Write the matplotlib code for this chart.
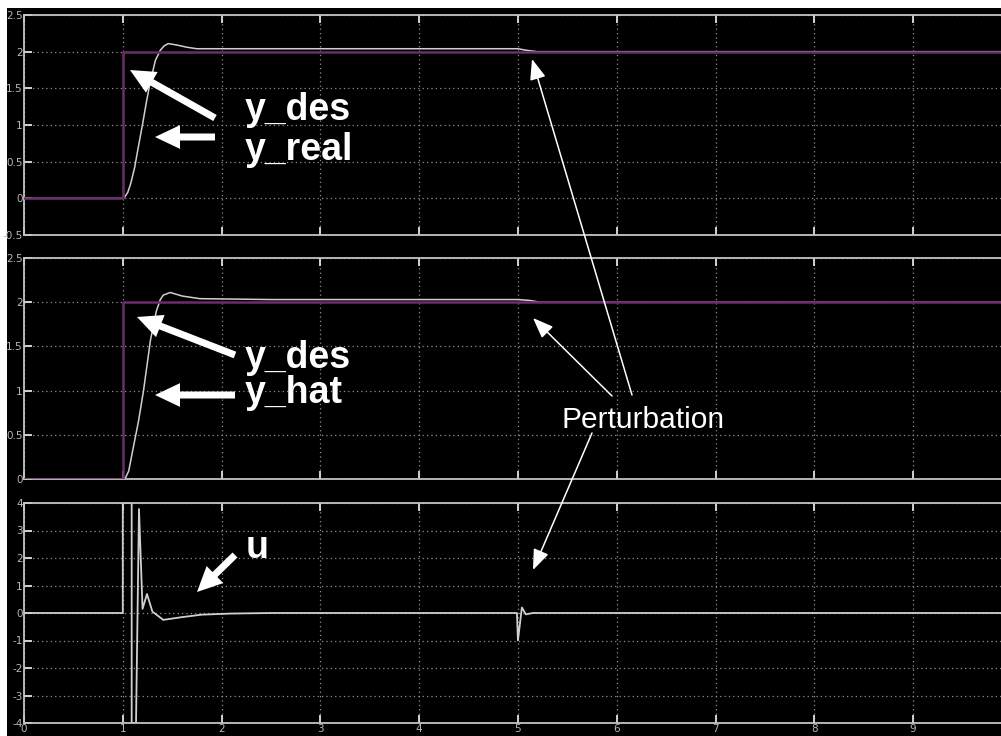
import matplotlib
matplotlib.use('Agg')
import matplotlib.pyplot as plt
from matplotlib.patches import Rectangle

W, H = 1001, 736

# reference step
t_des = [0, 1.0, 1.0, 10]
y_des = [0, 0, 2.0, 2.0]

# measured plant output
t_real = [0, 1.0, 1.02, 1.05, 1.08, 1.12, 1.16, 1.20, 1.24, 1.28, 1.33, 1.38, 1.42,
          1.46, 1.55, 1.65, 1.75, 2.5, 4.0, 5.0, 5.08, 5.19, 10]
y_real = [0, 0, 0.02, 0.08, 0.20, 0.42, 0.72, 1.01, 1.32, 1.60, 1.88, 2.02, 2.08,
          2.11, 2.09, 2.06, 2.04, 2.04, 2.04, 2.04, 2.02, 2.0, 2.0]

# observer estimate
t_hat = [0, 1.0, 1.03, 1.06, 1.10, 1.16, 1.21, 1.28, 1.34, 1.38, 1.41, 1.48, 1.60,
         1.78, 2.5, 4.0, 5.0, 5.12, 5.22, 10]
y_hat = [0, 0, 0.02, 0.09, 0.32, 0.66, 1.00, 1.57, 1.90, 2.03, 2.08, 2.11, 2.07,
         2.04, 2.03, 2.03, 2.03, 2.02, 2.0, 2.0]

# control signal (saturated at +/-4)
t_u = [0, 1.0, 1.0, 1.09, 1.09, 1.134, 1.164, 1.20, 1.245, 1.30, 1.41, 1.6, 1.8,
       2.1, 2.5, 4.99, 5.0, 5.04, 5.08, 5.15, 10]
u = [0, 0, 4.0, 4.0, -4.0, -4.0, 3.78, 0.15, 0.69, 0.05, -0.25, -0.15, -0.06,
     -0.02, 0, 0, -1.0, 0.2, -0.05, 0, 0]

yticks_top = [-0.5, 0, 0.5, 1, 1.5, 2, 2.5]
yticks_mid = [0, 0.5, 1, 1.5, 2, 2.5]
yticks_bot = [-4, -3, -2, -1, 0, 1, 2, 3, 4]
xticks = [0, 1, 2, 3, 4, 5, 6, 7, 8, 9]

purple = '#6a2c6a'
trace = '#d0d0d0'
frame = '#c4c4c4'


def fig_box(top, bottom):
    return [24 / W, 1 - bottom / H, 1 - 24 / W, (bottom - top) / H]


def style(ax, ylim, yticks, show_x):
    ax.set_facecolor('black')
    ax.set_xlim(0, 9.89)
    ax.set_ylim(*ylim)
    ax.set_xticks(xticks)
    ax.set_yticks(yticks)
    ax.set_yticklabels([f'{v:g}' for v in yticks])
    if not show_x:
        ax.set_xticklabels([])
    ax.grid(True, color='#8f8f8f', linestyle=(0, (1, 2.5)), linewidth=0.9)
    for side in ['top', 'bottom', 'left']:
        ax.spines[side].set_color(frame)
        ax.spines[side].set_linewidth(1.3)
    ax.spines['right'].set_visible(False)
    ax.tick_params(direction='in', top=True, length=6, width=1.3, color='#e0e0e0',
                   labelsize=7.5, labelcolor='#b8b8b8', pad=1)


fig = plt.figure(figsize=(W / 100, H / 100), dpi=100)
fig.patch.set_facecolor('white')
fig.add_artist(Rectangle((7 / W, 0), 1, (H - 8) / H, transform=fig.transFigure,
                         facecolor='black', edgecolor='none', zorder=-10))

ax1 = fig.add_axes(fig_box(15, 235))
ax2 = fig.add_axes(fig_box(258, 479))
ax3 = fig.add_axes(fig_box(503, 723))

style(ax1, (-0.5, 2.5), yticks_top, False)
style(ax2, (0, 2.5), yticks_mid, False)
style(ax3, (-4, 4), yticks_bot, True)

# y_des drawn over the traces so it stays visible once they settle on it
ax1.plot(t_real, y_real, color=trace, lw=1.1, zorder=2)
ax1.plot(t_des, y_des, color=purple, lw=1.8, zorder=3)
ax2.plot(t_hat, y_hat, color=trace, lw=1.1, zorder=2)
ax2.plot(t_des, y_des, color=purple, lw=1.8, zorder=3)
ax3.plot(t_u, u, color=trace, lw=1.3)


def fx(px, py):
    return (px, H - py)


# labels
bold = dict(color='white', fontsize=27, fontweight='bold', family='Liberation Sans')
for txt, x, y in [('y_des', 245, 120), ('y_real', 245, 160),
                  ('y_des', 245, 368), ('y_hat', 245, 403), ('u', 246, 558)]:
    fig.text(x / W, 1 - y / H, txt, va='baseline', ha='left', **bold)
fig.text(562 / W, 1 - 428 / H, 'Perturbation', va='baseline', ha='left',
         color='white', fontsize=21.5, family='Liberation Sans')

# thick arrows pointing to the traces
big = dict(arrowstyle='simple,head_length=1.0,head_width=0.95,tail_width=0.28',
           mutation_scale=18, color='white', lw=0, shrinkA=0, shrinkB=0)
for tail, tip in [((215, 118), (130, 70)), ((215, 137), (155, 137)),
                  ((235, 355), (137, 317)), ((235, 395), (155, 395)),
                  ((235, 555), (197, 592))]:
    ax3.annotate('', xy=fx(*tip), xytext=fx(*tail), xycoords='figure pixels',
                 textcoords='figure pixels', arrowprops=big)

# thin arrows from the perturbation label
thin = dict(arrowstyle='-|>,head_length=0.9,head_width=0.35', mutation_scale=14,
            color='white', lw=1.1, shrinkA=0, shrinkB=0)
for tail, tip in [((632, 395), (532, 59)), ((612, 396), (533, 318)),
                  ((592, 433), (533, 570))]:
    ax3.annotate('', xy=fx(*tip), xytext=fx(*tail), xycoords='figure pixels',
                 textcoords='figure pixels', arrowprops=thin)

fig.savefig('out.png', dpi=100, facecolor=fig.get_facecolor())
